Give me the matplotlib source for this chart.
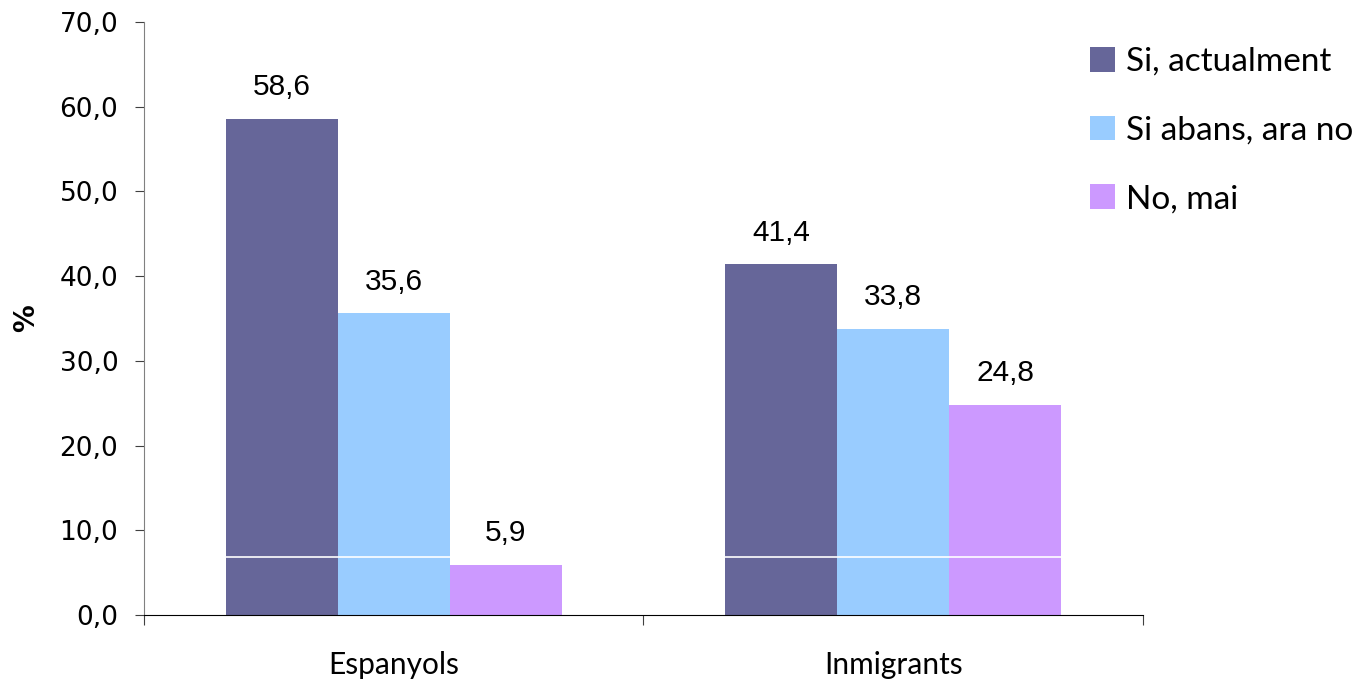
import matplotlib.pyplot as plt
import numpy as np

groups = ["Espanyols", "Inmigrants"]
series = ["Si, actualment", "Si abans, ara no", "No, mai"]
actualment = [58.6, 41.4]
abans = [35.6, 33.8]
mai = [5.9, 24.8]
colors = ["#666699", "#99CCFF", "#CC99FF"]

fig = plt.figure(figsize=(13.59, 6.8), dpi=100)
ax = fig.add_axes([0.106, 0.0956, 0.735, 0.872])

x = np.arange(len(groups))
width = 0.224
for i, (vals, col, name) in enumerate(zip([actualment, abans, mai], colors, series)):
    pos = x + (i - 1) * width
    ax.bar(pos, vals, width=width, color=col, label=name, zorder=2)
    for p, v in zip(pos, vals):
        ax.annotate(f"{v:.1f}".replace(".", ","), (p, v), xytext=(0, 17),
                    textcoords="offset points", ha="center", va="baseline",
                    fontsize=21.5, family="Liberation Sans")

# thin white gridline visible only across the bars in the original
ax.axhline(6.8, color="white", lw=1.2, zorder=2.2)

ax.set_xlim(-0.5, 1.5)
ax.set_ylim(0, 70)
ax.set_yticks(np.arange(0, 71, 10))
ax.set_yticklabels([f"{v:.1f}".replace(".", ",") for v in np.arange(0, 71, 10)],
                   fontsize=19, family="DejaVu Sans")
ax.tick_params(axis="y", length=6.5, pad=12, color="#404040")

ax.set_xticks([-0.5, 0.5, 1.5])
ax.set_xticklabels([])
ax.tick_params(axis="x", which="major", length=7, color="#404040")
ax.set_xticks(x, minor=True)
ax.set_xticklabels(groups, minor=True, fontsize=21.5, family="Lato")
ax.tick_params(axis="x", which="minor", length=0, pad=26)

ax.set_ylabel("%", fontsize=20, fontweight="bold", labelpad=14)

for s in ["top", "right"]:
    ax.spines[s].set_visible(False)
for s in ["left", "bottom"]:
    ax.spines[s].set_zorder(3)
ax.spines["left"].set_color("#808080")
ax.spines["bottom"].set_color("black")

fig.legend(loc="upper left", bbox_to_anchor=(0.802, 0.931), frameon=False,
           prop={"family": "Lato", "size": 24}, handlelength=0.76, handleheight=0.76,
           handletextpad=0.33, labelspacing=1.16, borderpad=0, borderaxespad=0)

fig.savefig("out.png", dpi=100)
